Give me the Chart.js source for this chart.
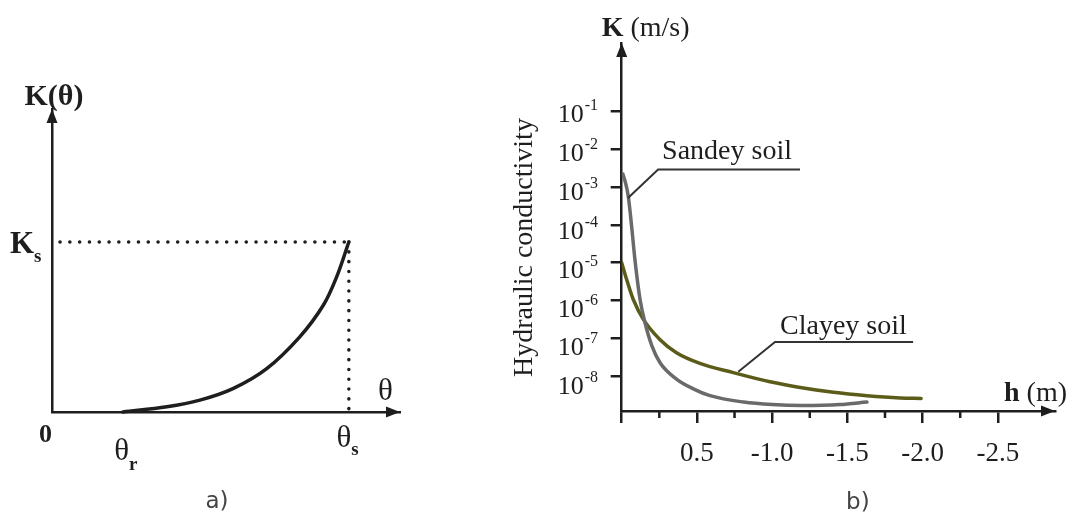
<!DOCTYPE html>
<html>
<head>
<meta charset="utf-8">
<title>Hydraulic conductivity</title>
<script src="https://cdn.jsdelivr.net/npm/chart.js"></script>
<style>
 html, body { margin: 0; padding: 0; background: #fff; }
 #wrap { position: relative; width: 1069px; height: 524px; overflow: hidden; }
 #chartA { position: absolute; left: 0; top: 0; }
 #chartB { position: absolute; left: 460px; top: 0; }
</style>
</head>
<body>
<div id="wrap">
 <canvas id="chartA" width="460" height="524"></canvas>
 <canvas id="chartB" width="609" height="524"></canvas>
</div>
<script>
// a) K(theta), relative units along each axis
var thetaVals = [0.204, 0.33, 0.425, 0.52, 0.617, 0.712, 0.78, 0.818, 0.853];
var kThetaVals = [0.0, 0.017, 0.039, 0.077, 0.143, 0.248, 0.353, 0.446, 0.561];
var thetaR = 0.2;
var thetaS = 0.853;
var kSat = 0.561;

// b) suction head |h| (m) vs hydraulic conductivity K (m/s)
var hSand = [0.008, 0.025, 0.044, 0.066, 0.088, 0.122, 0.155, 0.2, 0.255, 0.364, 0.476, 0.587, 0.81, 1.0, 1.2, 1.45, 1.63];
var kSand = [2.2e-3, 1.3e-3, 5.6e-4, 9.1e-5, 1.2e-5, 1.07e-6, 2.6e-7, 6.5e-8, 2.3e-8, 8.5e-9, 4.7e-9, 3.1e-9, 2.1e-9, 1.8e-9, 1.7e-9, 1.8e-9, 2.1e-9];
var hClay = [0, 0.033, 0.077, 0.144, 0.255, 0.364, 0.52, 0.742, 0.986, 1.186, 1.407, 1.63, 1.85, 1.99];
var kClay = [1e-5, 3.6e-6, 1.07e-6, 3.2e-7, 9.3e-8, 4.2e-8, 2.2e-8, 1.26e-8, 7.2e-9, 5.1e-9, 3.8e-9, 3.1e-9, 2.7e-9, 2.6e-9];
var kTickVals = [1e-1, 1e-2, 1e-3, 1e-4, 1e-5, 1e-6, 1e-7, 1e-8];
var kTickExps = ['-1', '-2', '-3', '-4', '-5', '-6', '-7', '-8'];
var hTickVals = [0, 0.5, 1.0, 1.5, 2.0, 2.5];
var hTickLabels = ['', '0.5', '-1.0', '-1.5', '-2.0', '-2.5'];

var ink = '#1e1e1e';
var serif = '"Liberation Serif", "Times New Roman", serif';
Chart.defaults.font.family = serif;

function pts(xs, ys) {
  return xs.map(function(x, i) { return {x: x, y: ys[i]}; });
}

function arrow(ctx, x, y, dir) {
  ctx.beginPath();
  if (dir == 'up') {
    ctx.moveTo(x, y); ctx.lineTo(x - 5.5, y + 14); ctx.lineTo(x + 5.5, y + 14);
  } else {
    ctx.moveTo(x, y); ctx.lineTo(x - 14, y - 5.5); ctx.lineTo(x - 14, y + 5.5);
  }
  ctx.closePath();
  ctx.fill();
}

// text with a small sub/superscript after it
function textWithIndex(ctx, main, idx, x, y, size, idxSize, dy, bold, center) {
  ctx.font = (bold ? 'bold ' : '') + size + 'px ' + serif;
  var w = ctx.measureText(main).width;
  var sx = center ? x - w / 2 : x;
  ctx.textAlign = 'left';
  ctx.fillText(main, sx, y);
  ctx.font = 'bold ' + idxSize + 'px ' + serif;
  ctx.fillText(idx, sx + w, y + dy);
}

var axisHidden = {
  ticks: {display: false},
  grid: {display: true, drawOnChartArea: false, drawTicks: false},
  border: {display: true, color: ink, width: 2.5}
};

// ---------- a) ----------
var drawA = {
  id: 'drawA',
  afterDraw: function(chart) {
    var ctx = chart.ctx, xs = chart.scales.x, ys = chart.scales.y, area = chart.chartArea;
    var ox = xs.getPixelForValue(0), oy = ys.getPixelForValue(0);
    ctx.save();
    ctx.fillStyle = ink;
    ctx.textBaseline = 'alphabetic';
    arrow(ctx, ox, area.top, 'up');
    arrow(ctx, area.right, oy, 'right');

    ctx.font = 'bold 30px ' + serif;
    ctx.textAlign = 'center';
    ctx.fillText('K(\u03b8)', ox + 2, area.top - 4);

    var ky = ys.getPixelForValue(kSat);
    textWithIndex(ctx, 'K', 's', ox - 42, ky + 11, 31, 19, 9, true, false);

    ctx.font = 'bold 26px ' + serif;
    ctx.textAlign = 'right';
    ctx.fillText('0', ox, oy + 30);

    textWithIndex(ctx, '\u03b8', 'r', xs.getPixelForValue(thetaR), oy + 48, 31, 19, 10, false, true);
    textWithIndex(ctx, '\u03b8', 's', xs.getPixelForValue(thetaS) - 5, oy + 35, 31, 19, 8, false, true);

    ctx.font = '31px ' + serif;
    ctx.textAlign = 'left';
    ctx.fillText('\u03b8', area.right - 22, oy - 12);

    ctx.fillStyle = '#444';
    ctx.font = '23px "DejaVu Sans", sans-serif';
    ctx.textAlign = 'center';
    ctx.textBaseline = 'middle';
    ctx.fillText('a)', ox + 165, oy + 90);
    ctx.restore();
  }
};

new Chart('chartA', {
  type: 'line',
  data: {
    datasets: [
      {data: pts(thetaVals, kThetaVals), borderColor: ink, borderWidth: 3.5, pointRadius: 0,
       tension: 0.35, borderCapStyle: 'round'},
      {data: [{x: 0.023, y: kSat}, {x: thetaS, y: kSat}], borderColor: ink, borderWidth: 3.5,
       borderDash: [0.1, 9.7], borderCapStyle: 'round', pointRadius: 0},
      {data: [{x: thetaS, y: kSat}, {x: thetaS, y: 0}], borderColor: ink, borderWidth: 3.5,
       borderDash: [0.1, 9.7], borderCapStyle: 'round', pointRadius: 0}
    ]
  },
  options: {
    responsive: false,
    animation: false,
    clip: false,
    layout: {padding: {left: 52, right: 60, top: 109, bottom: 112}},
    plugins: {legend: {display: false}, tooltip: {enabled: false}},
    scales: {
      x: Object.assign({type: 'linear', min: 0, max: 1}, axisHidden),
      y: Object.assign({type: 'linear', min: 0, max: 1}, axisHidden)
    }
  },
  plugins: [drawA]
});

// ---------- b) ----------
var drawB = {
  id: 'drawB',
  afterDraw: function(chart) {
    var ctx = chart.ctx, xs = chart.scales.x, ys = chart.scales.y, area = chart.chartArea;
    var ox = xs.getPixelForValue(0), oy = area.bottom;
    ctx.save();
    ctx.fillStyle = ink;
    ctx.strokeStyle = ink;
    arrow(ctx, ox, area.top, 'up');
    arrow(ctx, area.right, oy, 'right');

    // minor ticks between the labelled ones
    ctx.lineWidth = 2.5;
    for (var i = 0; i < hTickVals.length - 1; i++) {
      var mx = xs.getPixelForValue((hTickVals[i] + hTickVals[i + 1]) / 2);
      ctx.beginPath(); ctx.moveTo(mx, oy); ctx.lineTo(mx, oy + 7); ctx.stroke();
    }

    // y tick labels as 10 with exponent
    ctx.textBaseline = 'alphabetic';
    kTickVals.forEach(function(v, i) {
      var py = ys.getPixelForValue(v) + 11 + i;
      var lx = ox - 38;
      ctx.font = '26px ' + serif;
      ctx.textAlign = 'right';
      ctx.fillText('10', lx, py);
      ctx.font = '16px ' + serif;
      ctx.textAlign = 'left';
      ctx.fillText(kTickExps[i], lx + 1, py - 12);
    });

    // axis names
    ctx.textAlign = 'left';
    ctx.font = 'bold 28px ' + serif;
    ctx.fillText('K', ox - 20, area.top - 7);
    var kw = ctx.measureText('K ').width;
    ctx.font = '28px ' + serif;
    ctx.fillText('(m/s)', ox - 20 + kw, area.top - 7);

    ctx.font = '28px ' + serif;
    var mw = ctx.measureText(' (m)').width;
    ctx.fillText(' (m)', area.right + 12 - mw, oy - 10);
    ctx.font = 'bold 28px ' + serif;
    ctx.textAlign = 'right';
    ctx.fillText('h', area.right + 12 - mw, oy - 10);

    ctx.save();
    ctx.translate(ox - 90, ys.getPixelForValue(Math.pow(10, -4.6)));
    ctx.rotate(-Math.PI / 2);
    ctx.font = '28px ' + serif;
    ctx.textAlign = 'center';
    ctx.fillText('Hydraulic conductivity', 0, 0);
    ctx.restore();

    // curve callouts
    var notes = [
      {text: 'Sandey soil', tip: [0.042, 5.1e-4], elbow: [0.242, 2.9e-3], end: 1.185, dx: 4, dy: -10},
      {text: 'Clayey soil', tip: [0.775, 1.32e-8], elbow: [1.019, 8.1e-8], end: 1.937, dx: 5, dy: -8}
    ];
    ctx.strokeStyle = '#333';
    ctx.lineWidth = 2;
    notes.forEach(function(n) {
      var ex = xs.getPixelForValue(n.elbow[0]), ey = ys.getPixelForValue(n.elbow[1]);
      ctx.beginPath();
      ctx.moveTo(xs.getPixelForValue(n.tip[0]), ys.getPixelForValue(n.tip[1]));
      ctx.lineTo(ex, ey);
      ctx.lineTo(xs.getPixelForValue(n.end), ey);
      ctx.stroke();
      ctx.font = '28px ' + serif;
      ctx.textAlign = 'left';
      ctx.fillStyle = ink;
      ctx.fillText(n.text, ex + n.dx, ey + n.dy);
    });

    ctx.fillStyle = '#444';
    ctx.font = '23px "DejaVu Sans", sans-serif';
    ctx.textAlign = 'center';
    ctx.textBaseline = 'middle';
    ctx.fillText('b)', xs.getPixelForValue(1.57), oy + 92);
    ctx.restore();
  }
};

new Chart('chartB', {
  type: 'line',
  data: {
    datasets: [
      {label: 'Sandey soil', data: pts(hSand, kSand), borderColor: '#6a6a6a', borderWidth: 3.5,
       pointRadius: 0, cubicInterpolationMode: 'monotone', borderCapStyle: 'round'},
      {label: 'Clayey soil', data: pts(hClay, kClay), borderColor: '#5c5c1a', borderWidth: 3.5,
       pointRadius: 0, cubicInterpolationMode: 'monotone', borderCapStyle: 'round'}
    ]
  },
  options: {
    responsive: false,
    animation: false,
    layout: {padding: {left: 150.7, right: 14, top: 43, bottom: 38.6}},
    plugins: {legend: {display: false}, tooltip: {enabled: false}},
    scales: {
      x: {
        type: 'linear', min: 0, max: 2.88,
        afterBuildTicks: function(s) { s.ticks = hTickVals.map(function(v) { return {value: v}; }); },
        ticks: {
          autoSkip: false, maxRotation: 0, padding: 15, color: ink,
          font: {size: 27, family: serif},
          callback: function(v, i) { return hTickLabels[i]; }
        },
        grid: {drawOnChartArea: false, drawTicks: true, tickLength: 12, lineWidth: 2.5, color: ink},
        border: {display: true, color: ink, width: 2.5}
      },
      y: {
        type: 'logarithmic', min: 1.22e-9, max: 6.3,
        afterBuildTicks: function(s) { s.ticks = kTickVals.map(function(v) { return {value: v}; }); },
        ticks: {display: false},
        grid: {drawOnChartArea: false, drawTicks: true, tickLength: 11, lineWidth: 2.5, color: ink},
        border: {display: true, color: ink, width: 2.5}
      }
    }
  },
  plugins: [drawB]
});
</script>
</body>
</html>
